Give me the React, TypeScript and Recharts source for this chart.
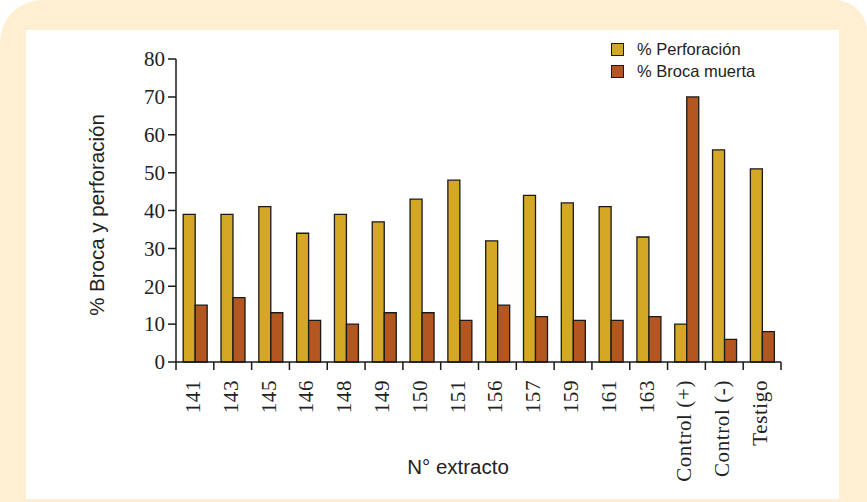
import React from 'react';
import { BarChart, Bar, XAxis, YAxis, ReferenceLine } from 'recharts';

const categories = ['141', '143', '145', '146', '148', '149', '150', '151', '156', '157', '159', '161', '163', 'Control (+)', 'Control (-)', 'Testigo'];
const perforacion = [39, 39, 41, 34, 39, 37, 43, 48, 32, 44, 42, 41, 33, 10, 56, 51];
const brocaMuerta = [15, 17, 13, 11, 10, 13, 13, 11, 15, 12, 11, 11, 12, 70, 6, 8];
const yTicks = [0, 10, 20, 30, 40, 50, 60, 70, 80];

const data = categories.map((name, i) => ({
  name,
  perforacion: perforacion[i],
  broca: brocaMuerta[i],
}));

const GOLD = '#d4a824';
const RUST = '#b4561f';
const CREAM = '#feefd3';
const INK = '#1a1a1a';
const SERIF = '"Liberation Serif", "DejaVu Serif", serif';
const SANS = '"Liberation Sans", Arial, sans-serif';

// plot geometry
const W = 867;
const H = 502;
const MARGIN = { top: 59, right: 86, left: 116, bottom: 40 };
const Y_AXIS_W = 60;
const BAND = (W - MARGIN.left - MARGIN.right - Y_AXIS_W) / categories.length;

const CategoryTick = (props: any) => {
  const { x, y, payload, index } = props;
  const last = index === categories.length - 1;
  return (
    <g>
      <line x1={x - BAND / 2} x2={x - BAND / 2} y1={y} y2={y + 8} stroke={INK} strokeWidth={1.5} />
      {last && <line x1={x + BAND / 2} x2={x + BAND / 2} y1={y} y2={y + 8} stroke={INK} strokeWidth={1.5} />}
      <text
        transform={`translate(${x - 2},${y + 18}) rotate(-90)`}
        textAnchor="end"
        dominantBaseline="central"
        fontFamily={SERIF}
        fontSize={21}
        letterSpacing={0.6}
        fill="#222"
      >
        {payload.value}
      </text>
    </g>
  );
};

const ValueTick = (props: any) => {
  const { x, y, payload } = props;
  return (
    <g>
      <line x1={x - 8} x2={x} y1={y} y2={y} stroke={INK} strokeWidth={1.5} />
      <text x={x - 11} y={y} dy="0.35em" textAnchor="end" fontFamily={SERIF} fontSize={21} fill="#222">
        {payload.value}
      </text>
    </g>
  );
};

const LegendBox = ({ y, color, label }: { y: number; color: string; label: string }) => (
  <div style={{ position: 'absolute', left: 611, top: y, display: 'flex', alignItems: 'center' }}>
    <div style={{ width: 11, height: 11, background: color, border: `1.5px solid ${INK}` }} />
    <span style={{ marginLeft: 13, fontFamily: SANS, fontSize: 16.5, color: '#222' }}>{label}</span>
  </div>
);

export default function App() {
  return (
    <div
      style={{
        position: 'relative',
        width: W,
        height: H,
        background: CREAM,
        borderTopLeftRadius: 42,
        borderTopRightRadius: 32,
        overflow: 'hidden',
      }}
    >
      <style>{'body{margin:0}'}</style>
      <div style={{ position: 'absolute', left: 26, top: 30, width: 813, height: 469, background: '#fff' }} />
      <div style={{ position: 'absolute', left: 0, top: 0 }}>
        <BarChart
          width={W}
          height={H}
          data={data}
          margin={MARGIN}
          barCategoryGap="19%"
          barGap={0}
        >
          <XAxis
            dataKey="name"
            interval={0}
            height={100}
            tickLine={false}
            tickSize={0}
            tickMargin={0}
            axisLine={false}
            tick={<CategoryTick />}
          />
          <YAxis
            width={Y_AXIS_W}
            domain={[0, 80]}
            ticks={yTicks}
            tickLine={false}
            tickSize={0}
            tickMargin={0}
            axisLine={false}
            tick={<ValueTick />}
          />
          <Bar dataKey="perforacion" fill={GOLD} stroke={INK} strokeWidth={1.3} isAnimationActive={false} />
          <Bar dataKey="broca" fill={RUST} stroke={INK} strokeWidth={1.3} isAnimationActive={false} />
          <ReferenceLine y={0} stroke={INK} strokeWidth={1.5} />
          <ReferenceLine x={categories[0]} position="start" stroke={INK} strokeWidth={1.5} />
        </BarChart>
      </div>
      <div
        style={{
          position: 'absolute',
          left: 97,
          top: 215,
          transform: 'translate(-50%, -50%) rotate(-90deg)',
          whiteSpace: 'nowrap',
          fontFamily: SANS,
          fontSize: 20.5,
          color: '#222',
        }}
      >
        % Broca y perforación
      </div>
      <div
        style={{
          position: 'absolute',
          left: 458,
          top: 467,
          transform: 'translate(-50%, -50%)',
          whiteSpace: 'nowrap',
          fontFamily: SANS,
          fontSize: 20.5,
          color: '#222',
        }}
      >
        N° extracto
      </div>
      <LegendBox y={40} color={GOLD} label="% Perforación" />
      <LegendBox y={62} color={RUST} label="% Broca muerta" />
    </div>
  );
}
